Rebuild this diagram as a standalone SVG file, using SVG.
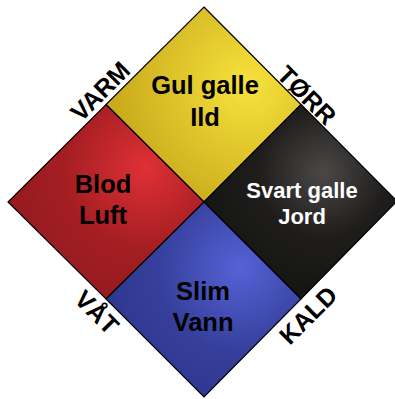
<svg xmlns="http://www.w3.org/2000/svg" width="395" height="399" viewBox="0 0 395 399">
  <style>
    .q { stroke: #000; stroke-width: 1.2; stroke-linejoin: miter; }
    .t { font-family: "Liberation Sans", Arial, sans-serif; font-weight: bold; text-anchor: middle; }
    .in { font-size: 25.5px; fill: #000; }
    .inw { font-size: 22px; fill: #fff; }
    .lab { font-size: 25px; fill: #000; }
  </style>
  <defs>
    <radialGradient id="gY" gradientUnits="userSpaceOnUse" cx="248" cy="85" r="135">
      <stop offset="0" stop-color="#f7e23c"/>
      <stop offset="1" stop-color="#c9aa1c"/>
    </radialGradient>
    <radialGradient id="gR" gradientUnits="userSpaceOnUse" cx="145" cy="168" r="135">
      <stop offset="0" stop-color="#df3035"/>
      <stop offset="0.6" stop-color="#a41e22"/>
      <stop offset="1" stop-color="#961b1f"/>
    </radialGradient>
    <radialGradient id="gK" gradientUnits="userSpaceOnUse" cx="323" cy="172" r="130">
      <stop offset="0" stop-color="#4a4947"/>
      <stop offset="0.5" stop-color="#1e1d1b"/>
      <stop offset="1" stop-color="#141412"/>
    </radialGradient>
    <radialGradient id="gB" gradientUnits="userSpaceOnUse" cx="240" cy="268" r="135">
      <stop offset="0" stop-color="#5662d6"/>
      <stop offset="0.6" stop-color="#36409c"/>
      <stop offset="1" stop-color="#2e3790"/>
    </radialGradient>
  </defs>

  <g id="yellow">
    <polygon class="q" fill="url(#gY)" points="204,7 301,104.5 204,202 106,104.5"/>
    <text class="t in" x="205" y="94">Gul galle</text>
    <text class="t in" x="205" y="126">Ild</text>
  </g>
  <g id="red">
    <polygon class="q" fill="url(#gR)" points="106,104.5 204,202 106,299 8,202"/>
    <text class="t in" x="103" y="193">Blod</text>
    <text class="t in" x="103" y="224">Luft</text>
  </g>
  <g id="black">
    <polygon class="q" fill="url(#gK)" points="301,104.5 397,201 301,299 204,202"/>
    <text class="t inw" x="302" y="198">Svart galle</text>
    <text class="t inw" x="302" y="224">Jord</text>
  </g>
  <g id="blue">
    <polygon class="q" fill="url(#gB)" points="204,202 301,299 204,397 106,299"/>
    <text class="t in" x="203" y="300">Slim</text>
    <text class="t in" x="203" y="331">Vann</text>
  </g>

  <g id="labels">
    <text class="t lab" transform="translate(100,91) rotate(-45)" x="0" y="9">VARM</text>
    <text class="t lab" transform="translate(307,95) rotate(45)" x="0" y="9">TØRR</text>
    <text class="t lab" transform="translate(97,312) rotate(45)" x="0" y="9">VÅT</text>
    <text class="t lab" transform="translate(308,315) rotate(-45)" x="0" y="9">KALD</text>
  </g>
</svg>
